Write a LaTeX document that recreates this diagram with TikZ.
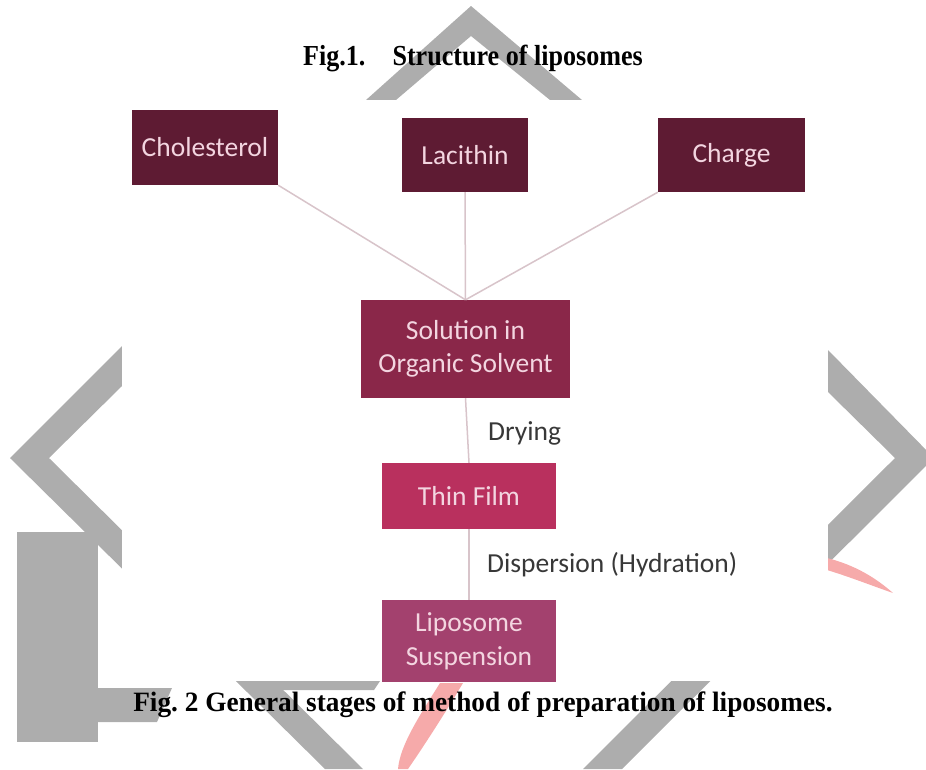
\documentclass[tikz,border=0pt]{standalone}
\usepackage{fontspec}
\setmainfont{Liberation Serif}
\newfontfamily\boxfont{Carlito}
\definecolor{wmgray}{HTML}{ADADAD}
\definecolor{wmpink}{HTML}{F6AAAA}
\definecolor{darkbox}{HTML}{5E1B33}
\definecolor{solbox}{HTML}{8A2749}
\definecolor{filmbox}{HTML}{B9305E}
\definecolor{lipobox}{HTML}{A3416E}
\definecolor{boxtext}{HTML}{F3D5E0}
\definecolor{linkcol}{HTML}{D8C4CA}
\definecolor{labcol}{HTML}{383838}
\tikzset{
  stage/.style={rectangle, inner sep=0pt, text=boxtext, align=center,
    font=\boxfont\fontsize{27.5}{33.5}\selectfont},
  link/.style={draw=linkcol, line width=1.5pt},
  steplabel/.style={anchor=west, inner sep=0pt, text=labcol,
    font=\boxfont\fontsize{27.5}{33.5}\selectfont},
  caption/.style={inner sep=0pt, anchor=base}
}
\begin{document}
\begin{tikzpicture}[x=1pt,y=-1pt]
\useasboundingbox (0,0) rectangle (926,769);
\clip (0,0) rectangle (926,769);
% watermark
\fill[wmgray] (471,6) -- (582,100) -- (550,100) -- (471,36) -- (396,100) -- (366,100) -- cycle;
\fill[wmgray] (122,346) -- (10,458) -- (325,769) -- (363,769) -- (49,458) -- (122,386) -- cycle;
\fill[wmgray] (828,350) -- (934,458) -- (622,769) -- (583,769) -- (895,458) -- (828,392) -- cycle;
\fill[wmgray] (17,532) rectangle (98,742);
\fill[wmgray] (98,688) -- (172,688) -- (157,722) -- (98,722) -- cycle;
\fill[wmgray] (236,681) -- (380,681) -- (374,690) -- (282,690) -- cycle;
\fill[wmpink] (440,683) .. controls (420,715) and (400,745) .. (398,769) -- (408,769)
  .. controls (428,740) and (450,705) .. (463,683) -- cycle;
\fill[wmpink] (827,558) .. controls (855,565) and (876,578) .. (893,593)
  .. controls (870,585) and (850,577) .. (827,570) -- cycle;
% diagram image area
\fill[white] (122,100) rectangle (828,681);
% boxes
\node[stage, fill=darkbox, minimum width=146pt, minimum height=75pt] (chol) at (205,147.5) {Cholesterol};
\node[stage, fill=darkbox, minimum width=126pt, minimum height=74pt] (lac) at (465,155) {Lacithin};
\node[stage, fill=darkbox, minimum width=147pt, minimum height=74pt] (chg) at (731.5,155) {Charge};
\node[stage, fill=solbox, minimum width=209pt, minimum height=98pt] (sol) at (465.5,349) {Solution in\\Organic Solvent};
\node[stage, fill=filmbox, minimum width=174pt, minimum height=66pt] (film) at (469,496) {Thin Film};
\node[stage, fill=lipobox, minimum width=174pt, minimum height=82pt] (lipo) at (469,641) {Liposome\\Suspension};
% connectors
\draw[link] (chol.south east) -- (sol.north);
\draw[link] (lac.south) -- (sol.north);
\draw[link] (chg.south west) -- (sol.north);
\draw[link] (sol.south) -- (film.north);
\draw[link] (film.south) -- (lipo.north);
\node[steplabel] (dry) at (488,433) {Drying};
\node[steplabel] (disp) at (487,565) {Dispersion (Hydration)};
% captions
\node[caption, font=\bfseries\fontsize{29}{34}\selectfont] (fig1) at (473,65) {\scalebox{0.9}[1]{Fig.1.\hspace{30pt}Structure of liposomes}};
\node[caption, font=\bfseries\fontsize{28}{34}\selectfont] (fig2) at (483,711) {\scalebox{0.975}[1]{Fig.\ 2 General stages of method of preparation of liposomes.}};
\end{tikzpicture}
\end{document}
